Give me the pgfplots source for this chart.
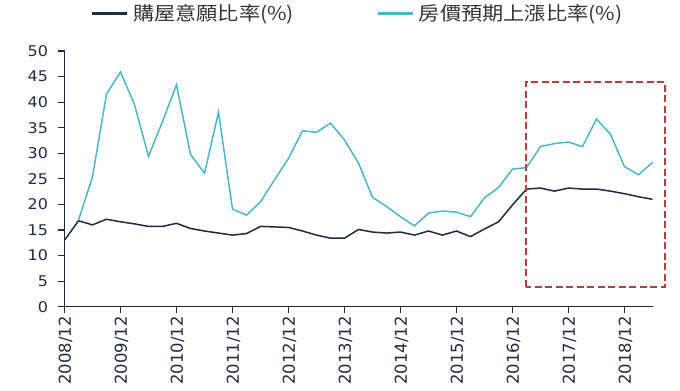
\documentclass[border=0pt]{standalone}
\usepackage{fontspec}
\setmainfont{DejaVu Sans}
\newfontfamily\ytickfont[FakeStretch=1.08]{DejaVu Sans}
\newfontfamily\cjk[FakeStretch=1.12]{Noto Sans CJK TC}
\usepackage{pgfplots}
\usepackage{pgfplotstable}
\pgfplotsset{compat=1.18}
\definecolor{navy}{HTML}{1F2B40}
\definecolor{cyanb}{HTML}{4BB6CB}
\definecolor{redd}{HTML}{B2403F}
\pgfplotstableread{
x a b
0 13.0 nan
1 16.8 16.9
2 16.0 25.4
3 17.1 41.6
4 16.6 45.9
5 16.2 39.5
6 15.7 29.4
7 15.7 36.2
8 16.3 43.4
9 15.3 29.8
10 14.8 26.1
11 14.4 38.0
12 14.0 19.1
13 14.3 17.9
14 15.7 20.5
15 15.6 24.8
16 15.5 29.0
17 14.8 34.4
18 14.0 34.1
19 13.4 35.9
20 13.4 32.6
21 15.1 28.1
22 14.6 21.4
23 14.4 19.6
24 14.6 17.6
25 14.0 15.8
26 14.8 18.3
27 14.0 18.7
28 14.8 18.5
29 13.7 17.6
30 15.2 21.3
31 16.6 23.3
32 19.9 26.9
33 23.0 27.2
34 23.2 31.3
35 22.6 31.9
36 23.2 32.2
37 23.0 31.3
38 23.0 36.7
39 22.6 33.7
40 22.1 27.4
41 21.5 25.8
42 21.0 28.2
}\data
\begin{document}
\begin{tikzpicture}
\path[use as bounding box] (0,0) rectangle (680bp,391bp);
\begin{axis}[
  at={(64.5bp,84.3bp)}, anchor=south west,
  scale only axis, width=588bp, height=255.7bp,
  xmin=0, xmax=42, ymin=0, ymax=50,
  axis x line=bottom, axis y line=left,
  axis line style={-, navy, line width=1.1bp},
  tick align=outside, major tick length=6bp,
  tick style={navy, line width=1.1bp},
  xtick={0,4,...,40},
  xticklabels={2008/12,2009/12,2010/12,2011/12,2012/12,2013/12,2014/12,2015/12,2016/12,2017/12,2018/12},
  ytick={0,5,...,50},
  /pgf/number format/assume math mode=true,
  ticklabel style={text=navy},
  xticklabel style={rotate=90, anchor=east, font=\fontsize{16.5}{18}\selectfont, yshift=-1bp},
  yticklabel style={font=\ytickfont\fontsize{14.8}{16}\selectfont, xshift=-7bp},
  clip=false,
  legend columns=2,
  legend style={at={(0.04,1.147)}, anchor=west, draw=none, fill=none,
    font=\cjk\fontsize{19}{21}\selectfont, text=black!80,
    /tikz/every even column/.append style={column sep=81bp}},
  legend image code/.code={\draw[#1, line width=2.2bp] (0bp,0bp) -- (35bp,0bp); \path (38bp,0bp);},
]
\addplot[navy, line width=1.5bp] table[x=x, y=a] {\data};
\addlegendentry{購屋意願比率(\%)}
\addplot[cyanb, line width=1.5bp] table[x=x, y=b] {\data};
\addlegendentry{房價預期上漲比率(\%)}
\draw[redd, line width=1.8bp, dash pattern=on 7bp off 3.5bp] (axis cs:32.94,3.9) rectangle (axis cs:42.9,43.9);
\end{axis}
\end{tikzpicture}
\end{document}
